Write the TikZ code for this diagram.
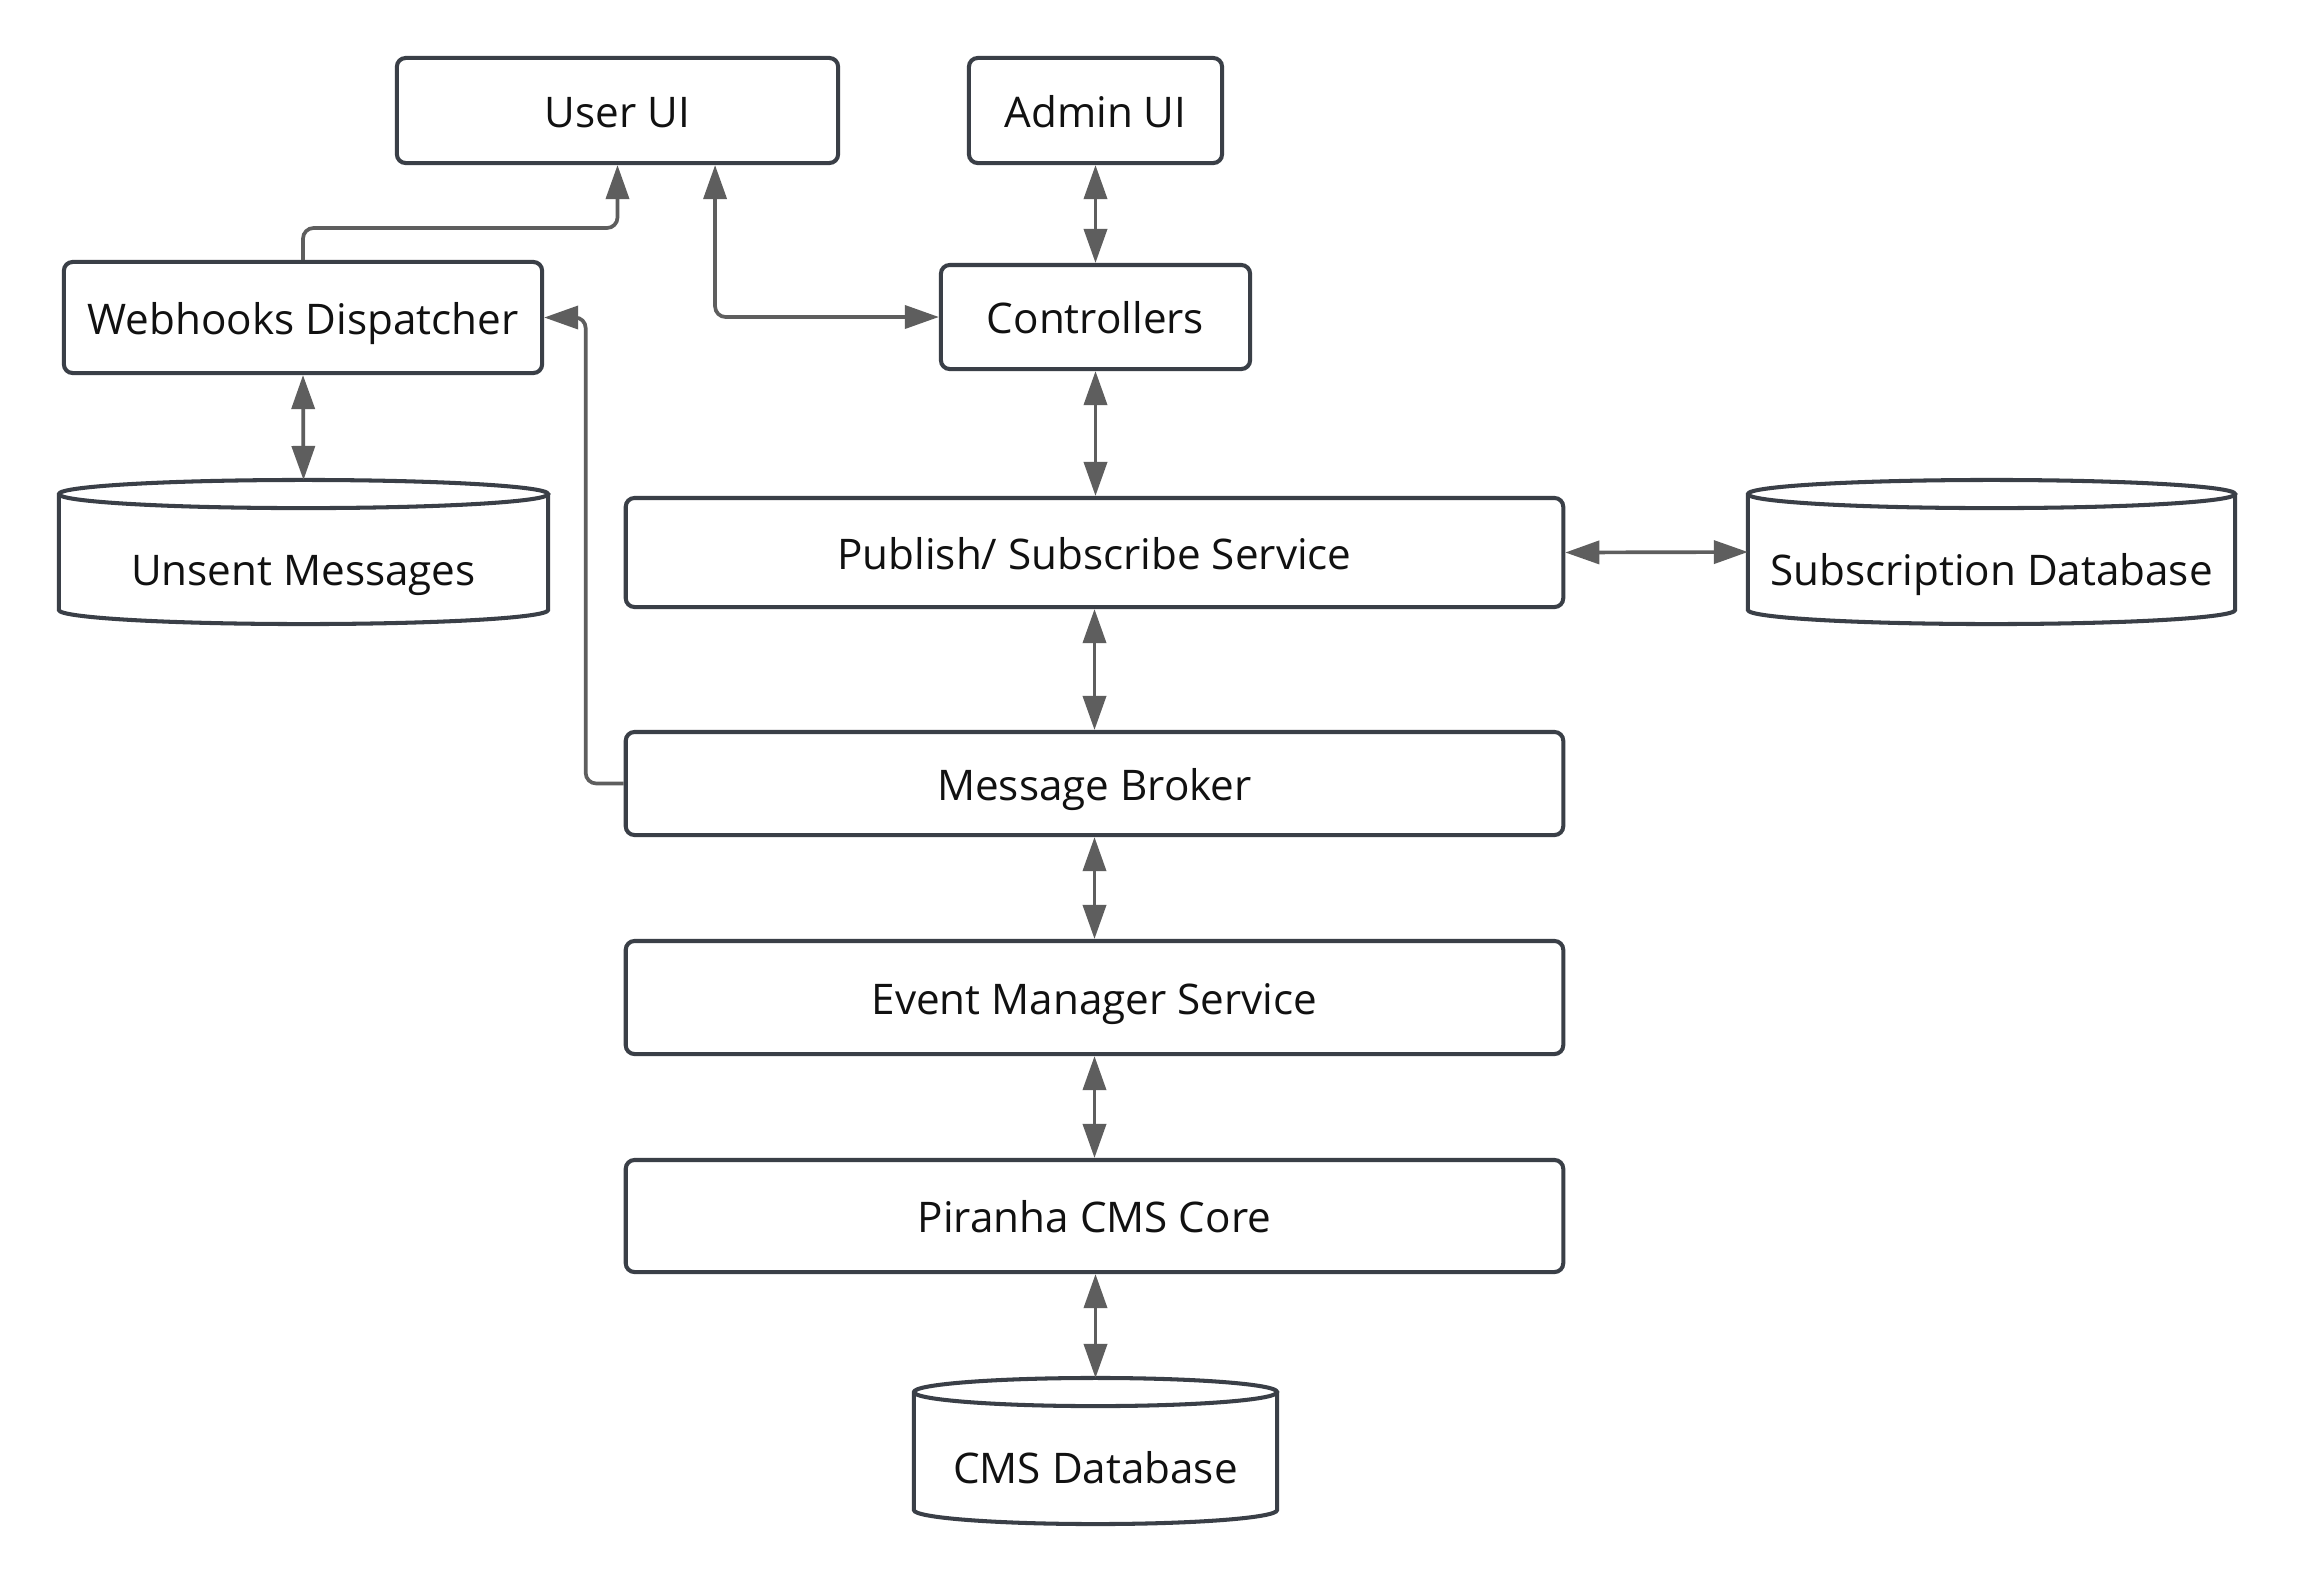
\documentclass[tikz,border=0pt]{standalone}
\usepackage{fontspec}
\setmainfont{Open Sans}
\usetikzlibrary{arrows.meta,calc}
\definecolor{boxc}{HTML}{3A3F47}
\definecolor{linec}{HTML}{5E5E5E}
\definecolor{txtc}{HTML}{111111}
\begin{document}
\begin{tikzpicture}[x=0.01cm,y=-0.01cm,
  lbl/.style={text=txtc,font=\fontsize{12}{14}\selectfont,inner sep=0pt,text height=0.94em,text depth=0pt},
  box/.style={lbl,draw=boxc,line width=1.15pt,rounded corners=2.5pt,fill=white},
  cylnode/.style={inner sep=0pt,outer sep=0pt},
  cylline/.style={draw=boxc,line width=1.15pt,fill=white},
  conn/.style={draw=linec,line width=1.05pt,rounded corners=3pt},
  tip/.tip={Triangle[length=0.34cm,width=0.23cm,fill=linec,color=linec]},
  both/.style={conn,{tip}-{tip}},
  one/.style={conn,-{tip}}]
\useasboundingbox (0,0) rectangle (2323,1590);
\fill[white] (0,0) rectangle (2323,1590);
\newcommand\cylshape[1]{%
  \path[cylline] let \p1=(#1.north west), \p2=(#1.south east), \n1={(\x2-\x1)/2} in
    (\x1,\y1-4pt) arc[start angle=180,end angle=360,x radius=\n1,y radius=4pt]
    arc[start angle=0,end angle=180,x radius=\n1,y radius=4pt]
    -- (\x1,\y2+4pt) arc[start angle=180,end angle=360,x radius=\n1,y radius=4pt]
    -- (\x2,\y1-4pt);}
% boxes
\node[box,minimum width=4.41cm,minimum height=1.05cm] (uui) at (617.5,110.5) {User UI};
\node[box,minimum width=2.53cm,minimum height=1.05cm] (aui) at (1095.5,110.5) {Admin UI};
\node[box,minimum width=4.78cm,minimum height=1.11cm] (wd) at (303,317.5) {Webhooks Dispatcher};
\node[box,minimum width=3.09cm,minimum height=1.04cm] (ctl) at (1095.5,317) {Controllers};
\node[box,minimum width=9.37cm,minimum height=1.09cm] (pss) at (1094.5,552.5) {Publish/ Subscribe Service};
\node[box,minimum width=9.37cm,minimum height=1.03cm] (mb) at (1094.5,783.5) {Message Broker};
\node[box,minimum width=9.37cm,minimum height=1.13cm] (ems) at (1094.5,997.5) {Event Manager Service};
\node[box,minimum width=9.37cm,minimum height=1.12cm] (pcc) at (1094.5,1216) {Piranha CMS Core};
% cylinders
\node[cylnode,minimum width=4.89cm,minimum height=1.44cm] (udb) at (303.5,552) {};
\node[cylnode,minimum width=4.87cm,minimum height=1.44cm] (sdb) at (1991.5,552) {};
\node[cylnode,minimum width=3.63cm,minimum height=1.46cm] (cdb) at (1095.5,1451) {};
\cylshape{udb}
\cylshape{sdb}
\cylshape{cdb}
\node[lbl] (udbt) at (303.5,569) {Unsent Messages};
\node[lbl] (sdbt) at (1991.5,569) {Subscription Database};
\node[lbl] (cdbt) at (1095.5,1467) {CMS Database};
% connectors
\coordinate (j1) at (617.5,228);
\draw[one] (wd.north) |- (j1) -- (uui.south);
\draw[both] ([xshift=-1.25cm]uui.south east) |- (ctl.west);
\draw[one] (mb.west) -- ++(-0.38cm,0) |- (wd.east);
\draw[both] (aui.south) -- (ctl.north);
\draw[both] (ctl.south) -- (ctl.south |- pss.north);
\draw[both] (pss.south) -- (mb.north);
\draw[both] (mb.south) -- (ems.north);
\draw[both] (ems.south) -- (pcc.north);
\draw[both] (pcc.south -| cdb.north) -- (cdb.north);
\draw[both] (pss.east) -- (sdb.west);
\draw[both] (wd.south) -- (udb.north);
\end{tikzpicture}
\end{document}
